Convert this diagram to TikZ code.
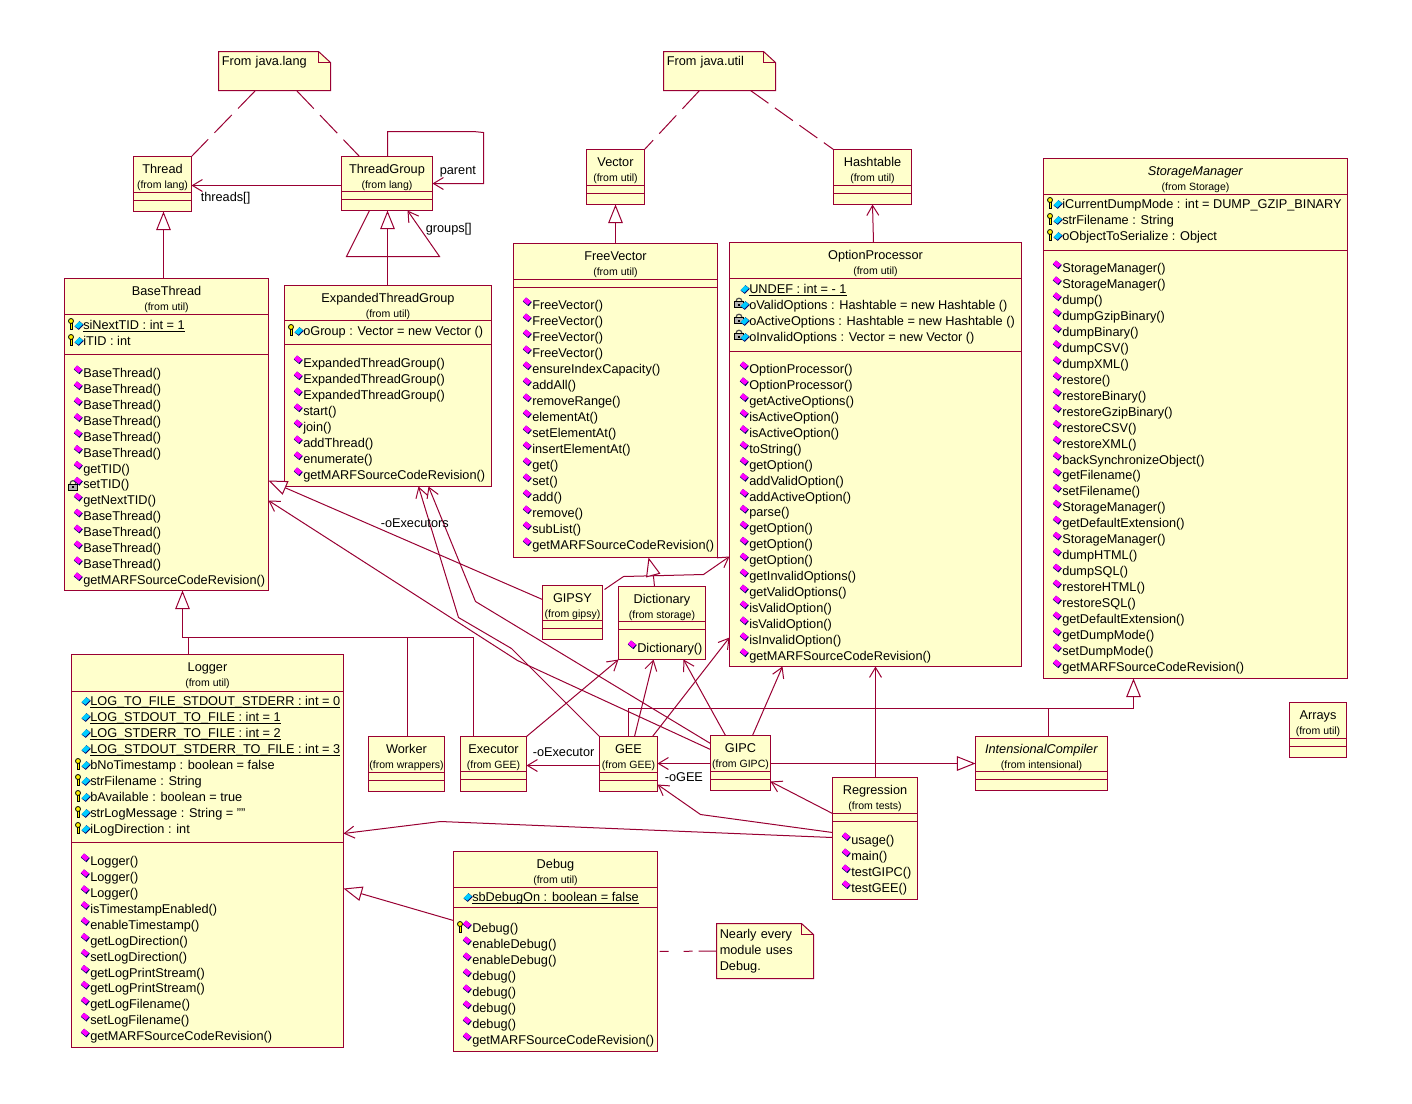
\documentclass[tikz,border=0pt]{standalone}
\usepackage{fontspec}
\setmainfont{Liberation Sans}
\usepackage{tikz}
\usetikzlibrary{calc}
\usetikzlibrary{arrows.meta}
\definecolor{umlline}{HTML}{990033}
\definecolor{umlfill}{HTML}{FFFFCC}
\definecolor{opfill}{HTML}{FF00FF}
\definecolor{attrfill}{HTML}{00CCFF}
\definecolor{iconedge}{HTML}{000066}
\tikzstyle{classbox} = [draw=umlline,fill=umlfill,line width=0.75pt,inner sep=0pt,outer sep=0pt,anchor=north west]
\tikzstyle{classline} = [draw=umlline,line width=0.75pt]
\tikzstyle{title} = [anchor=base,inner sep=0pt,font=\fontsize{9.55}{11}\selectfont]
\tikzstyle{fromtext} = [anchor=base,inner sep=0pt,font=\fontsize{7.9}{9}\selectfont]
\tikzstyle{member} = [anchor=base west,inner sep=0pt,font=\fontsize{9.55}{11}\selectfont]
\tikzstyle{rolelabel} = [anchor=west,inner sep=0pt,font=\fontsize{9.55}{11}\selectfont]
\tikzstyle{notetext} = [anchor=north west,inner sep=0pt,align=left,font=\fontsize{9.55}{12}\selectfont]
\tikzstyle{assoc} = [draw=umlline,line width=0.75pt,-{Straight Barb[length=7.5pt,width=9pt]}]
\tikzstyle{inherit} = [draw=umlline,line width=0.75pt,-{Triangle[length=14pt,width=11pt,fill=white]}]
\tikzstyle{plainline} = [draw=umlline,line width=0.75pt]
\tikzstyle{anchorline} = [draw=umlline,line width=0.75pt,dash pattern=on 18.75pt off 6.75pt]

% static members: rule sits at a fixed gap under the baseline
\newcommand{\static}[1]{\underline{\smash{#1}}}
% a class: name, corner, width, height, title, package, two compartment rules
\newcommand{\classnode}[8]{
	\node[classbox,minimum width=#3*0.75pt,minimum height=#4*0.75pt] (#1) at (#2) {};
	\node[title] (#1-title) at ($(#1.north)+(0,16.5)$) {#5};
	\node[fromtext] (#1-from) at ($(#1.north)+(0,31.5)$) {(from #6)};
	\draw[classline] (#1.west |- 0,#7) -- (#1.east |- 0,#7);
	\draw[classline] (#1.west |- 0,#8) -- (#1.east |- 0,#8);
}
% a note with a folded corner: name, corner, width, height, text
\newcommand{\notenode}[5]{
	\coordinate (#1-nw) at (#2);
	\draw[classline,fill=umlfill] (#1-nw) -- ++(#3-12,0) -- ++(12,11) -- ++(0,#4-11) -- ++(-#3,0) -- cycle;
	\draw[classline,line width=0.5pt] ($(#1-nw)+(#3-12,0)$) -- ++(0,11) -- ++(12,0);
	\node[notetext,text width=#3*0.75pt-4pt] (#1) at ($(#2)+(3,5)$) {#5};
	\coordinate (#1-south) at ($(#1-nw)+(#3/2,#4)$);
	\coordinate (#1-west) at ($(#1-nw)+(0,#4/2)$);
}
% member icons, placed relative to the text start and the row centre
\newcommand{\iconop}[2]{\begin{scope}[shift={(#1,#2)}]
	\fill[iconedge] (-9.7,-3) -- (-6.5,-7) -- (-0.7,-2.5) -- (-4,1.7) -- cycle;
	\fill[opfill] (-9.5,-3.7) -- (-6.5,-7) -- (-1.5,-3) -- (-4.7,0.3) -- cycle;
\end{scope}}
\newcommand{\iconattr}[2]{\begin{scope}[shift={(#1,#2)}]
	\fill[iconedge] (-9,2) -- (-4,-3.3) -- (0.3,0.3) -- (-4.7,5.3) -- cycle;
	\fill[attrfill] (-9,1.5) -- (-4.3,-3.2) -- (-0.7,-0.2) -- (-5,4.2) -- cycle;
\end{scope}}
\newcommand{\iconkey}[2]{\begin{scope}[shift={(#1,#2)}]
	\fill[black] (-13.2,-2) rectangle (-11,5);
	\fill[yellow] (-12.6,-2) rectangle (-11.7,4);
	\filldraw[draw=black,fill=yellow,line width=0.6pt] (-12.5,-3.5) circle (2.5);
\end{scope}}
\newcommand{\iconlock}[2]{\begin{scope}[shift={(#1,#2)}]
	\draw[black!70,line width=0.9pt] (-10.5,-3.5) circle (2.8);
	\filldraw[draw=black,fill=gray!60,line width=0.5pt] (-15,-3) rectangle (-6,3);
	\fill[black] (-11.5,-1) rectangle (-9.5,1);
\end{scope}}
\newcommand{\iconkeyattr}[2]{\iconkey{#1}{#2}\iconattr{#1}{#2}}
\newcommand{\iconlockattr}[2]{\iconlock{#1}{#2}\iconattr{#1}{#2}}
\newcommand{\iconkeyop}[2]{\iconkey{#1}{#2}\iconop{#1}{#2}}
\newcommand{\iconlockop}[2]{\iconlock{#1}{#2+3}\iconop{#1}{#2}}
% rows of members: prefix, text x, first row y, row step, icon/text list
\newcommand{\members}[5]{
	\foreach \ic/\txt [count=\i from 0] in {#5} {
		\pgfmathsetmacro\rowy{#3+\i*#4}
		\csname icon\ic\endcsname{#2}{\rowy}
		\node[member] (#1-\i) at (#2-0.5,\rowy+5) {\txt};
	}
}

\begin{document}
\begin{tikzpicture}[x=0.75pt,y=-0.75pt]
	\useasboundingbox[fill=white] (-0.5,-0.5) rectangle (1411.5,1102.5);

	%Notes
	\notenode{noteLang}{218,51}{112}{39}{From java.lang}
	\notenode{noteUtil}{663,51}{112}{39}{From java.util}
	\notenode{noteDebug}{716,923}{97}{55}{Nearly every\\module uses\\Debug.}

	%Classes
	\classnode{thread}{133,156}{58}{55}{Thread}{lang}{192}{200}
	\classnode{threadGroup}{341,156}{91}{54}{ThreadGroup}{lang}{191}{199}
	\classnode{baseThread}{64,278}{204}{312}{BaseThread}{util}{314}{354}
	\classnode{expandedGroup}{284,285}{207}{201}{ExpandedThreadGroup}{util}{320}{344}
	\classnode{vector}{586,149}{58}{55}{Vector}{util}{185}{193}
	\classnode{hashtable}{833,149}{78}{55}{Hashtable}{util}{185}{193}
	\classnode{freeVector}{513,243}{204}{314}{FreeVector}{util}{279}{287}
	\classnode{optionProcessor}{729,242}{292}{424}{OptionProcessor}{util}{278}{351}
	\classnode{storageManager}{1043,158}{304}{520}{\textit{StorageManager}}{Storage}{194}{250}
	\classnode{arrays}{1289,702}{57}{55}{Arrays}{util}{738}{746}
	\classnode{gipsy}{542,585}{60}{54}{GIPSY}{gipsy}{620}{628}
	\classnode{dictionary}{618,586}{87}{73}{Dictionary}{storage}{621}{629}
	\classnode{logger}{71,654}{272}{393}{Logger}{util}{691}{842}
	\classnode{worker}{368,736}{76}{55}{Worker}{wrappers}{772}{780}
	\classnode{executor}{460,736}{66}{55}{Executor}{GEE}{771}{779}
	\classnode{gee}{599,736}{58}{55}{GEE}{GEE}{772}{780}
	\classnode{gipc}{710,735}{60}{55}{GIPC}{GIPC}{771}{779}
	\classnode{intensional}{975,736}{132}{54}{\textit{IntensionalCompiler}}{intensional}{771}{779}
	\classnode{regression}{832,777}{85}{122}{Regression}{tests}{813}{821}
	\classnode{debug}{453,851}{204}{200}{Debug}{util}{887}{907}

	%Members
	\members{baseAttr}{83}{324}{16}{keyattr/\static{siNextTID : int = 1},keyattr/iTID : int}
	\members{baseOp}{83}{372}{15.92}{op/BaseThread(),op/BaseThread(),op/BaseThread(),op/BaseThread(),op/BaseThread(),op/BaseThread(),op/getTID(),lockop/setTID(),op/getNextTID(),op/BaseThread(),op/BaseThread(),op/BaseThread(),op/BaseThread(),op/getMARFSourceCodeRevision()}
	\members{groupAttr}{303}{330}{16}{keyattr/oGroup : Vector = new Vector ()}
	\members{groupOp}{303}{362}{16}{op/ExpandedThreadGroup(),op/ExpandedThreadGroup(),op/ExpandedThreadGroup(),op/start(),op/join(),op/addThread(),op/enumerate(),op/getMARFSourceCodeRevision()}
	\members{freeOp}{532}{304}{16}{op/FreeVector(),op/FreeVector(),op/FreeVector(),op/FreeVector(),op/ensureIndexCapacity(),op/addAll(),op/removeRange(),op/elementAt(),op/setElementAt(),op/insertElementAt(),op/get(),op/set(),op/add(),op/remove(),op/subList(),op/getMARFSourceCodeRevision()}
	\members{optAttr}{749}{288}{16}{attr/\static{UNDEF : int = - 1},lockattr/oValidOptions : Hashtable = new Hashtable (),lockattr/oActiveOptions : Hashtable = new Hashtable (),lockattr/oInvalidOptions : Vector = new Vector ()}
	\members{optOp}{749}{368}{15.94}{op/OptionProcessor(),op/OptionProcessor(),op/getActiveOptions(),op/isActiveOption(),op/isActiveOption(),op/toString(),op/getOption(),op/addValidOption(),op/addActiveOption(),op/parse(),op/getOption(),op/getOption(),op/getOption(),op/getInvalidOptions(),op/getValidOptions(),op/isValidOption(),op/isValidOption(),op/isInvalidOption(),op/getMARFSourceCodeRevision()}
	\members{storeAttr}{1062}{203}{16}{keyattr/iCurrentDumpMode : int = DUMP\_GZIP\_BINARY,keyattr/strFilename : String,keyattr/oObjectToSerialize : Object}
	\members{storeOp}{1062}{267}{15.96}{op/StorageManager(),op/StorageManager(),op/dump(),op/dumpGzipBinary(),op/dumpBinary(),op/dumpCSV(),op/dumpXML(),op/restore(),op/restoreBinary(),op/restoreGzipBinary(),op/restoreCSV(),op/restoreXML(),op/backSynchronizeObject(),op/getFilename(),op/setFilename(),op/StorageManager(),op/getDefaultExtension(),op/StorageManager(),op/dumpHTML(),op/dumpSQL(),op/restoreHTML(),op/restoreSQL(),op/getDefaultExtension(),op/getDumpMode(),op/setDumpMode(),op/getMARFSourceCodeRevision()}
	\members{dictOp}{637}{647}{16}{op/Dictionary()}
	\members{logAttr}{90}{700}{16}{attr/\static{LOG\_TO\_FILE\_STDOUT\_STDERR : int = 0},attr/\static{LOG\_STDOUT\_TO\_FILE : int = 1},attr/\static{LOG\_STDERR\_TO\_FILE : int = 2},attr/\static{LOG\_STDOUT\_STDERR\_TO\_FILE : int = 3},keyattr/bNoTimestamp : boolean = false,keyattr/strFilename : String,keyattr/bAvailable : boolean = true,keyattr/strLogMessage : String = "",keyattr/iLogDirection : int}
	\members{logOp}{90}{860}{15.93}{op/Logger(),op/Logger(),op/Logger(),op/isTimestampEnabled(),op/enableTimestamp(),op/getLogDirection(),op/setLogDirection(),op/getLogPrintStream(),op/getLogPrintStream(),op/getLogFilename(),op/setLogFilename(),op/getMARFSourceCodeRevision()}
	\members{regOp}{851}{839}{16}{op/usage(),op/main(),op/testGIPC(),op/testGEE()}
	\members{debugAttr}{472}{896}{16}{attr/\static{sbDebugOn : boolean = false}}
	\members{debugOp}{472}{927}{16}{keyop/Debug(),op/enableDebug(),op/enableDebug(),op/debug(),op/debug(),op/debug(),op/debug(),op/getMARFSourceCodeRevision()}

	%Note lines
	\draw[anchorline] (noteLang-south -| 255,0) -- (thread.north east);
	\draw[anchorline] (noteLang-south -| 296,0) -- (threadGroup.north -| 359,0);
	\draw[anchorline] (noteUtil-south -| 699,0) -- (vector.north east);
	\draw[anchorline,dash pattern=on 16.5pt off 6pt] (noteUtil-south -| 750,0) -- (hashtable.north west);
	\draw[anchorline,dash pattern=on 13.5pt off 4.5pt on 6.75pt off 11.25pt on 6.75pt off 20pt] (noteDebug-west) -- (debug.east |- 0,951);

	%Associations
	\draw[assoc] (threadGroup.west |- 0,185) -- (thread.east |- 0,185);
	\draw[assoc] (threadGroup.north -| 387,0) -- (387,131) -- (473,131) -- (483,132) -- (483,183) -- (threadGroup.east |- 0,183);
	\draw[assoc] (threadGroup.south -| 369,0) -- (346,256) -- (439,256) -- (threadGroup.south -| 407,0);
	\draw[assoc] (optionProcessor.north -| 873,0) -- (hashtable.south -| 872,0);
	\draw[assoc] (regression.north -| 875,0) -- (optionProcessor.south -| 875,0);
	\draw[assoc] (gipc.north -| 752,0) -- (optionProcessor.south -| 782,0);
	\draw[assoc] (gee.north -| 652,0) -- (optionProcessor.west |- 0,637);
	\draw[assoc] (gipc.north -| 725,0) -- (dictionary.south -| 683,0);
	\draw[assoc] (gee.north -| 634,0) -- (dictionary.south -| 653,0);
	\draw[assoc] (executor.north east) -- (dictionary.south west);
	\draw[assoc] (gee.west |- 0,765) -- (executor.east |- 0,765);
	\draw[assoc] (gipc.west |- 0,763) -- (gee.east |- 0,763);
	\draw[assoc] (regression.west |- 0,813) -- (gipc.east |- 0,781);
	\draw[assoc] (regression.west |- 0,832) -- (700,814) -- (gee.east |- 0,784);
	\draw[assoc] (regression.west |- 0,837) -- (440,821) -- (logger.east |- 0,833);
	\draw[assoc] (gipc.west |- 0,743) -- (475,601) -- (expandedGroup.south -| 428,0);
	\draw[assoc] (gee.north west) -- (511,648) -- (458,617) -- (expandedGroup.south -| 418,0);
	\draw[assoc] (gipsy.north east) ++(2,4) -- (623,576) -- (703,574) -- (optionProcessor.west |- 0,556);
	\draw[assoc] (gipc.west |- 0,749) -- (517,660) -- (baseThread.east |- 0,500);

	%Generalizations
	\draw[inherit] (baseThread.north -| 163,0) -- (thread.south -| 163,0);
	\draw[inherit] (expandedGroup.north -| 387,0) -- (threadGroup.south -| 387,0);
	\draw[inherit] (freeVector.north -| 615,0) -- (vector.south -| 615,0);
	\draw[inherit] (gipc.east |- 0,763) -- (intensional.west |- 0,763);
	\draw[inherit] (gee.north -| 628,0) -- (628,708) -- (1133,708) -- (storageManager.south -| 1133,0);
	\draw[plainline] (intensional.north -| 1048,0) -- (1048,708);
	\draw[inherit] (debug.west |- 0,920) -- (logger.east |- 0,888);
	\draw[inherit] (worker.north -| 407,0) -- (407,637) -- (182,637) -- (baseThread.south -| 182,0);
	\draw[plainline] (executor.north -| 473,0) -- (473,637) -- (188,637) -- (logger.north -| 188,0);
	\draw[inherit] (gipsy.west |- 0,599) -- (baseThread.east |- 0,480);
	\draw[inherit] (dictionary.north -| 654,0) -- (653,576) -- (freeVector.south -| 648,0);

	%Labels
	\node[rolelabel] (threadsLabel) at (200,197.5) {threads[]};
	\node[rolelabel] (parentLabel) at (439,171.5) {parent};
	\node[rolelabel] (groupsLabel) at (425,228.5) {groups[]};
	\node[rolelabel] (executorsLabel) at (380,522.5) {-oExecutors};
	\node[rolelabel] (executorLabel) at (532,751.5) {-oExecutor};
	\node[rolelabel] (geeLabel) at (664,776.5) {-oGEE};
\end{tikzpicture}
\end{document}
